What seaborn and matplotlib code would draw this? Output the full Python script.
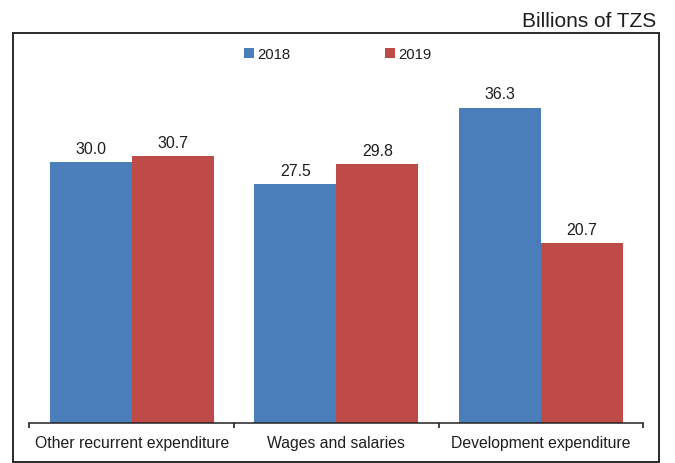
import matplotlib
matplotlib.use("Agg")
import matplotlib.pyplot as plt
from matplotlib.patches import Rectangle
from matplotlib.ticker import FixedLocator, NullFormatter
import pandas as pd
import seaborn as sns

categories = ["Other recurrent expenditure", "Wages and salaries", "Development expenditure"]
years = ["2018", "2019"]
values_2018 = [30.0, 27.5, 36.3]
values_2019 = [30.7, 29.8, 20.7]
unit_label = "Billions of TZS"

colors = {"2018": "#4A7EBB", "2019": "#BE4B48"}

df = pd.DataFrame({
    "category": categories * 2,
    "year": [years[0]] * len(categories) + [years[1]] * len(categories),
    "value": values_2018 + values_2019,
})

sns.set_style("white")
plt.rcParams["font.family"] = ["Liberation Sans", "DejaVu Sans"]
text_color = "#1e1e1e"

fig = plt.figure(figsize=(6.75, 4.64), dpi=100)
ax = fig.add_axes([29.3 / 675, 1 - 424 / 464, (643.3 - 29.3) / 675, (424 - 34) / 464])

sns.barplot(data=df, x="category", y="value", hue="year", order=categories,
            hue_order=years, palette=colors, saturation=1, width=0.8, gap=0,
            linewidth=0, edgecolor="none", ax=ax)

for container in ax.containers:
    ax.bar_label(container, fmt="%.1f", padding=4.5, fontsize=11.4, color=text_color)

ax.set_xlim(-0.5, len(categories) - 0.5)
ax.set_ylim(0, 44.9)
ax.set_xlabel("")
ax.set_ylabel("")
ax.set_yticks([])

# category names centred under each group, boundary ticks between groups
ax.set_xticks(range(len(categories)))
ax.set_xticklabels(categories, fontsize=11.3, color=text_color)
ax.tick_params(axis="x", which="major", bottom=True, length=0, pad=8.5)
ax.xaxis.set_minor_locator(FixedLocator([i - 0.5 for i in range(len(categories) + 1)]))
ax.xaxis.set_minor_formatter(NullFormatter())
ax.tick_params(axis="x", which="minor", bottom=True, length=3.8, width=1.2,
               color="#222222", direction="out")

for side in ["top", "left", "right"]:
    ax.spines[side].set_visible(False)
ax.spines["bottom"].set_color("#222222")
ax.spines["bottom"].set_linewidth(1.1)

handles, labels = ax.get_legend_handles_labels()
if ax.get_legend() is not None:
    ax.get_legend().remove()
fig.legend(handles, labels, loc="center", bbox_to_anchor=(338 / 675, 1 - 55 / 464),
           ncol=2, frameon=False, fontsize=10.7, handlelength=0.62, handleheight=0.62,
           handletextpad=0.25, columnspacing=6.4, borderpad=0, labelcolor=text_color)

# outer frame around the plotting area
fig.patches.append(Rectangle((13.3 / 675, 1 - 462.5 / 464), (659.3 - 13.3) / 675,
                             (462.5 - 34) / 464, transform=fig.transFigure,
                             fill=False, edgecolor="#2a2a2a", linewidth=1.4))

fig.text(656.7 / 675, 1 - 26.7 / 464, unit_label, ha="right", va="baseline",
         fontsize=15, color=text_color)

fig.savefig("out.png", dpi=100)
